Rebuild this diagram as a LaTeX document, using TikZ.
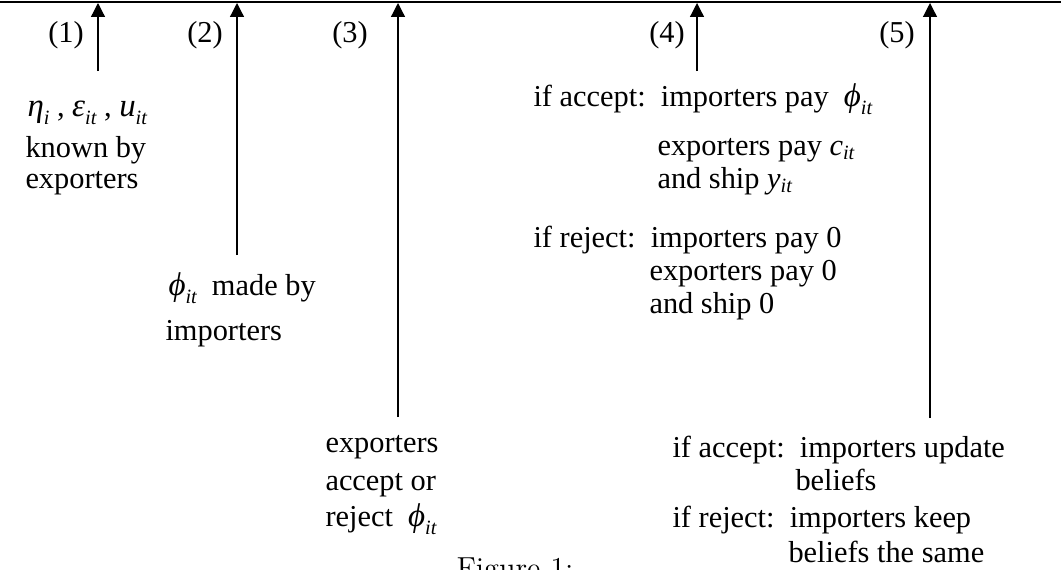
\documentclass[tikz,border=0pt]{standalone}
\usepackage{fontspec}
\setmainfont{Liberation Serif}
\usetikzlibrary{arrows.meta}

\newcommand{\lowit}[1]{\textsubscript{\itshape #1}}
% symbol with a lowered subscript, as set by an equation editor
\newcommand{\gsym}[2]{{\fontsize{13}{14}\selectfont\itshape #1}\raisebox{-3.2pt}{\fontsize{8}{8}\selectfont\itshape #2}}

\begin{document}
\begin{tikzpicture}[x=0.395pt, y=-0.395pt,
  stage/.style={-{Triangle[length=5.5pt,width=5.5pt]}, line width=0.5pt},
  txt/.style={anchor=base west, inner sep=0pt, font=\fontsize{12}{14}\selectfont},
  num/.style={anchor=base, inner sep=0pt, font=\fontsize{12}{14}\selectfont}]
  \useasboundingbox (0,0) rectangle (1061,569);

  % Draw the time line
  \coordinate (L) at (0,2);
  \coordinate (R) at (1061,2);
  \draw[line width=0.9pt] (L) -- (R);

  % Arrows for the five stages
  \foreach \n/\x/\y in {1/98/71, 2/237/255, 3/398/417, 4/697/71, 5/930/418} {
    \coordinate (top\n) at (\x,3);
    \coordinate (foot\n) at (\x,\y);
    \draw[stage] (foot\n) -- (top\n);
  }

  % Stage numbers
  \node[num] (n1) at (66,42) {(1)};
  \node[num] (n2) at (205,42) {(2)};
  \node[num] (n3) at (350,42) {(3)};
  \node[num] (n4) at (667,42) {(4)};
  \node[num] (n5) at (897,42) {(5)};

  % Stage 1
  \node[txt] (noise) at (27,116) {\gsym{η}{i} , \gsym{ε}{it} , \gsym{u}{it}};
  \node[txt] (known) at (25,157) {known by};
  \node[txt] (exp1) at (25,188) {exporters};

  % Stage 2
  \node[txt] (offer) at (168,295) {\gsym{ϕ}{it}\ \ made by};
  \node[txt] (imp2) at (165,340) {importers};

  % Stage 3
  \node[txt] (exp3) at (325,452) {exporters};
  \node[txt] (acc3) at (325,490) {accept or};
  \node[txt] (rej3) at (325,526) {reject\ \ \gsym{ϕ}{it}};

  % Stage 4
  \node[txt] (acc4) at (533,106) {if accept:\ \ importers pay\ \ \gsym{ϕ}{it}};
  \node[txt] (pay4) at (657,155) {exporters pay \textit{c}\lowit{it}};
  \node[txt] (ship4) at (657,188) {and ship \textit{y}\lowit{it}};
  \node[txt] (rej4) at (533,247) {if reject:\ \ importers pay 0};
  \node[txt] (nopay4) at (649,280) {exporters pay 0};
  \node[txt] (noship4) at (649,313) {and ship 0};

  % Stage 5
  \node[txt] (acc5) at (672,457) {if accept:\ \ importers update};
  \node[txt] (bel5) at (795,490) {beliefs};
  \node[txt] (rej5) at (672,527) {if reject:\ \ importers keep};
  \node[txt] (same5) at (788,562) {beliefs the same};

  % Caption, cut at the bottom
  \node[anchor=base, inner sep=0pt, font=\fontspec{Latin Modern Roman}\fontsize{12}{14}\selectfont] (cap) at (515,578) {Figure 1:};
\end{tikzpicture}
\end{document}
